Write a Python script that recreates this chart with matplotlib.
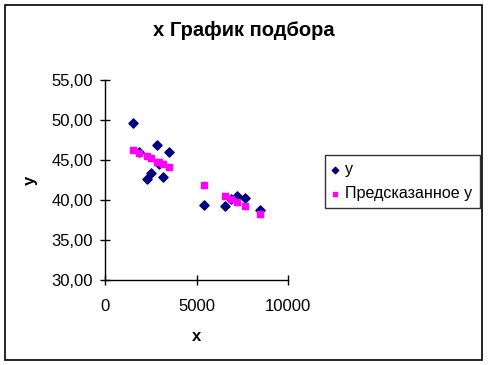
import matplotlib.pyplot as plt
from matplotlib.patches import Rectangle
from matplotlib.ticker import FuncFormatter

plt.rcParams['font.family'] = ['Liberation Sans', 'DejaVu Sans']

# data
x_vals = [1550, 1870, 2290, 2510, 2860, 2930, 3180, 3470, 5400, 6560, 6880, 7190, 7640, 8450]
y_vals = [49.6, 46.0, 42.6, 43.4, 46.9, 44.5, 42.9, 46.0, 39.4, 39.3, 40.1, 40.5, 40.3, 38.8]
y_pred = [46.3, 45.9, 45.5, 45.2, 44.8, 44.7, 44.5, 44.1, 41.9, 40.5, 40.1, 39.7, 39.2, 38.3]

x_ticks = [0, 5000, 10000]
y_ticks = [30, 35, 40, 45, 50, 55]

fig = plt.figure(figsize=(4.88, 3.65), dpi=100)
fig.patches.append(Rectangle((5 / 488, 5 / 365), 477 / 488, 355 / 365,
                             transform=fig.transFigure, fill=False,
                             edgecolor='black', linewidth=1.2))

ax = fig.add_axes([105 / 488, 85 / 365, 183 / 488, 200 / 365])
ax.scatter(x_vals, y_vals, marker='D', s=22, color='#000080', label='y', zorder=3)
ax.scatter(x_vals, y_pred, marker='s', s=24, color='#FF00FF',
           label='Предсказанное y', zorder=4)

ax.set_xlim(0, 10000)
ax.set_ylim(30, 55)
ax.set_xticks(x_ticks)
ax.set_yticks(y_ticks)
ax.yaxis.set_major_formatter(FuncFormatter(lambda v, p: f'{v:.2f}'.replace('.', ',')))
ax.xaxis.set_major_formatter(FuncFormatter(lambda v, p: f'{int(v)}'))
ax.tick_params(direction='inout', length=7, width=1, labelsize=12)
ax.tick_params(axis='x', pad=10)
ax.tick_params(axis='y', pad=5)

for side in ('top', 'right'):
    ax.spines[side].set_visible(False)
for side in ('left', 'bottom'):
    ax.spines[side].set_linewidth(1)

ax.set_xlabel('x', fontsize=12, fontweight='bold', labelpad=11)
ax.set_ylabel('y', fontsize=12, fontweight='bold', rotation=90, labelpad=10)

fig.text(0.5, 335 / 365, 'x График подбора', ha='center', va='center',
         fontsize=14.5, fontweight='bold')

leg = fig.legend(loc='upper left', bbox_to_anchor=(325 / 488, 1 - 155 / 365),
                 frameon=True, fancybox=False, fontsize=11.6, handlelength=0.4,
                 handletextpad=0.4, borderpad=0.45, labelspacing=0.55,
                 borderaxespad=0, markerscale=0.7)
leg.get_frame().set_edgecolor('black')
leg.get_frame().set_linewidth(1)

fig.savefig('out.png', dpi=100)
